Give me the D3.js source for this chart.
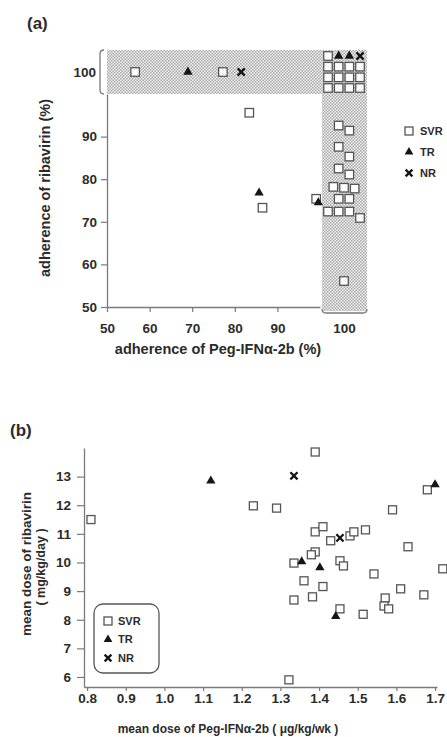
<!DOCTYPE html>
<html>
<head>
<meta charset="utf-8">
<script src="https://cdn.jsdelivr.net/npm/d3@7"></script>
<style>
  body { margin: 0; background: #fff; }
  text { font-family: "Liberation Sans", Arial, sans-serif; font-weight: bold; fill: #2b2b2b; }
</style>
</head>
<body>
<svg id="chart" width="447" height="737"></svg>
<script>
// ---------- panel (a) data : adherence (%) ----------
// both values below 100 : [Peg-IFN, ribavirin]
var aSVR = [[83.4, 95.6], [86.5, 73.3], [99.1, 75.4]];
var aTR = [[85.7, 76.8], [99.6, 74.5]];
// ribavirin = 100 %, Peg-IFN below 100
var aTopSVR = [56.6, 77.2];
var aTopTR = [69.0];
var aTopNR = [81.5];
// Peg-IFN = 100 % : [stack column, ribavirin]
var aSideSVR = [[1, 92.6], [2, 91.4], [1, 87.6], [2, 85.3], [1, 82.5], [2, 81.1],
                [0.5, 78.2], [1.5, 78.0], [2.5, 77.8], [1, 75.4], [2, 75.4],
                [0, 72.4], [1, 72.4], [2, 72.4], [3, 70.9], [1.5, 56.1]];
// both = 100 % : stacked grid, one row per line
var aCorner = [["SVR", "TR", "TR", "NR"],
               ["SVR", "SVR", "SVR", "SVR"],
               ["SVR", "SVR", "SVR", "SVR"],
               ["SVR", "SVR", "SVR", "SVR"]];
var aTicks = [50, 60, 70, 80, 90];

// ---------- panel (b) data : mean doses ----------
var bSVR = [[0.81, 11.5], [1.23, 11.98], [1.29, 11.9], [1.39, 13.86], [1.39, 11.07],
            [1.41, 11.25], [1.43, 10.76], [1.48, 10.93], [1.49, 11.07], [1.52, 11.14],
            [1.59, 11.84], [1.68, 12.54], [1.63, 10.55], [1.39, 10.37], [1.38, 10.27],
            [1.335, 9.98], [1.454, 10.06], [1.463, 9.88], [1.542, 9.6], [1.72, 9.78],
            [1.361, 9.36], [1.41, 9.16], [1.335, 8.69], [1.383, 8.8], [1.454, 8.38],
            [1.514, 8.19], [1.571, 8.76], [1.568, 8.48], [1.58, 8.38], [1.611, 9.08],
            [1.671, 8.87], [1.322, 5.9]];
var bTR = [[1.12, 12.85], [1.355, 10.03], [1.402, 9.82], [1.443, 8.12], [1.70, 12.72]];
var bNR = [[1.335, 13.03], [1.454, 10.86]];
var bXTicks = [0.8, 0.9, 1.0, 1.1, 1.2, 1.3, 1.4, 1.5, 1.6, 1.7];
var bYTicks = [6, 7, 8, 9, 10, 11, 12, 13];

var groups = ["SVR", "TR", "NR"];
var axisColor = "#7a7a7a";

var svg = d3.select("#chart");

// halftone screen used for the 100 % bands
var pattern = svg.append("defs").append("pattern")
   .attr("id", "screen")
   .attr("width", 3)
   .attr("height", 3)
   .attr("patternUnits", "userSpaceOnUse");
pattern.append("rect").attr("width", 3).attr("height", 3).attr("fill", "#f2f2f2");
pattern.append("rect").attr("width", 1.5).attr("height", 1.5).attr("fill", "#a8a8a8");
pattern.append("rect").attr("x", 1.5).attr("y", 1.5).attr("width", 1.5).attr("height", 1.5).attr("fill", "#a8a8a8");

// one marker for each response group
function addMark(g, type, px, py, s) {
    if (type === "SVR") {
        g.append("rect")
           .attr("x", px - s / 2)
           .attr("y", py - s / 2)
           .attr("width", s)
           .attr("height", s)
           .attr("fill", "#fff")
           .attr("stroke", "#555")
           .attr("stroke-width", 1.3);
    } else if (type === "TR") {
        g.append("path")
           .attr("d", d3.symbol().type(d3.symbolTriangle).size(Math.sqrt(3) / 4 * s * s * 1.2)())
           .attr("transform", `translate(${px}, ${py})`)
           .attr("fill", "#151515");
    } else {
        var h = s * 0.42;
        g.append("path")
           .attr("d", `M${-h},${-h}L${h},${h}M${-h},${h}L${h},${-h}`)
           .attr("transform", `translate(${px}, ${py})`)
           .attr("stroke", "#151515")
           .attr("stroke-width", 2.3)
           .attr("fill", "none");
    }
}

function styleAxis(g, size) {
    g.select(".domain").attr("stroke", axisColor).attr("stroke-width", 1.3);
    g.selectAll(".tick line").attr("stroke", axisColor).attr("stroke-width", 1.2);
    g.selectAll(".tick text").attr("font-size", size).attr("fill", "#2b2b2b");
    g.attr("font-family", null);
}

// =============== panel (a) ===============
var xA = d3.scaleLinear().domain([50, 100]).range([107, 320]);
var yA = d3.scaleLinear().domain([50, 100]).range([307, 94]);
var bandX = [322, 367];   // Peg-IFN = 100 %
var bandY = [50, 94];     // ribavirin = 100 %
var colA = d3.scaleLinear().domain([0, 3]).range([328, 360]);
var rowA = d3.scaleLinear().domain([0, 3]).range([56, 88]);
var midX = (bandX[0] + bandX[1]) / 2;
var midY = (bandY[0] + bandY[1]) / 2;

var gA = svg.append("g");

// shaded 100 % bands
gA.append("rect")
   .attr("x", xA(50)).attr("y", bandY[0])
   .attr("width", bandX[1] - xA(50)).attr("height", bandY[1] - bandY[0])
   .attr("fill", "url(#screen)");
gA.append("rect")
   .attr("x", bandX[0]).attr("y", bandY[0])
   .attr("width", bandX[1] - bandX[0]).attr("height", yA(50) + 4 - bandY[0])
   .attr("fill", "url(#screen)");

// brackets marking the 100 % bands
gA.append("path")
   .attr("d", `M${xA(50) - 3},${bandY[0]}Q${xA(50) - 7},${bandY[0]} ${xA(50) - 7},${bandY[0] + 4}L${xA(50) - 7},${bandY[1] - 4}Q${xA(50) - 7},${bandY[1]} ${xA(50) - 3},${bandY[1]}`)
   .attr("fill", "none").attr("stroke", axisColor).attr("stroke-width", 1.3);
gA.append("path")
   .attr("d", `M${bandX[0]},${yA(50) + 2}Q${bandX[0]},${yA(50) + 6} ${bandX[0] + 4},${yA(50) + 6}L${bandX[1] - 4},${yA(50) + 6}Q${bandX[1]},${yA(50) + 6} ${bandX[1]},${yA(50) + 2}`)
   .attr("fill", "none").attr("stroke", axisColor).attr("stroke-width", 1.3);

// axes
var xAxisA = gA.append("g")
   .attr("transform", `translate(0, ${yA(50)})`)
   .call(d3.axisBottom(xA).tickValues(aTicks).tickSize(5).tickSizeOuter(0).tickPadding(11));
styleAxis(xAxisA, 13.5);
var yAxisA = gA.append("g")
   .attr("transform", `translate(${xA(50)}, 0)`)
   .call(d3.axisLeft(yA).tickValues(aTicks).tickSize(6).tickSizeOuter(0).tickPadding(4));
styleAxis(yAxisA, 13.5);

// 100 % tick labels
gA.append("text")
   .attr("x", xA(50) - 11).attr("y", midY).attr("dy", "0.35em")
   .attr("text-anchor", "end").attr("font-size", 13.5)
   .text("100");
gA.append("text")
   .attr("x", midX).attr("y", 333)
   .attr("text-anchor", "middle").attr("font-size", 13.5)
   .text("100");

// points
aSVR.forEach(d => addMark(gA, "SVR", xA(d[0]), yA(d[1]), 8.5));
aTR.forEach(d => addMark(gA, "TR", xA(d[0]), yA(d[1]), 8.5));
aTopSVR.forEach(d => addMark(gA, "SVR", xA(d), midY, 8.5));
aTopTR.forEach(d => addMark(gA, "TR", xA(d), midY, 8.5));
aTopNR.forEach(d => addMark(gA, "NR", xA(d), midY, 8.5));
aSideSVR.forEach(d => addMark(gA, "SVR", colA(d[0]), yA(d[1]), 8.5));
aCorner.forEach((row, i) => row.forEach((type, j) => addMark(gA, type, colA(j), rowA(i), 8.5)));

// legend
groups.forEach(function(type, i) {
    addMark(gA, type, 409, 131 + i * 21, 8);
    gA.append("text")
       .attr("x", 420).attr("y", 131 + i * 21).attr("dy", "0.35em")
       .attr("font-size", 11)
       .text(type);
});

// titles
gA.append("text").attr("x", 27).attr("y", 29).attr("font-size", 17).text("(a)");
gA.append("text")
   .attr("transform", "translate(45, 188) rotate(-90)")
   .attr("text-anchor", "middle").attr("dy", "0.35em")
   .attr("font-size", 14.5)
   .text("adherence of ribavirin (%)");
gA.append("text")
   .attr("x", 218).attr("y", 354)
   .attr("text-anchor", "middle")
   .attr("font-size", 14.5)
   .text("adherence of Peg-IFNα-2b (%)");

// =============== panel (b) ===============
var xB = d3.scaleLinear().domain([0.792, 1.705]).range([84, 437]);
var yB = d3.scaleLinear().domain([5.65, 14]).range([687, 448]);

var gB = svg.append("g");

var xAxisB = gB.append("g")
   .attr("transform", `translate(0, ${yB(5.65)})`)
   .call(d3.axisBottom(xB).tickValues(bXTicks).tickFormat(d3.format(".1f")).tickSize(4).tickSizeOuter(0).tickPadding(2));
styleAxis(xAxisB, 13.5);
var yAxisB = gB.append("g")
   .attr("transform", `translate(${xB(0.792)}, 0)`)
   .call(d3.axisLeft(yB).tickValues(bYTicks).tickSize(7).tickSizeOuter(0).tickPadding(6));
styleAxis(yAxisB, 13.5);

bSVR.forEach(d => addMark(gB, "SVR", xB(d[0]), yB(d[1]), 8));
bTR.forEach(d => addMark(gB, "TR", xB(d[0]), yB(d[1]), 8.5));
bNR.forEach(d => addMark(gB, "NR", xB(d[0]), yB(d[1]), 8.5));

// legend box
gB.append("rect")
   .attr("x", 94).attr("y", 604).attr("width", 65).attr("height", 69)
   .attr("rx", 9)
   .attr("fill", "#fff").attr("stroke", "#555").attr("stroke-width", 1.3);
groups.forEach(function(type, i) {
    addMark(gB, type, 108, 621 + i * 18.5, 8);
    gB.append("text")
       .attr("x", 118).attr("y", 621 + i * 18.5).attr("dy", "0.35em")
       .attr("font-size", 11)
       .text(type);
});

// titles
gB.append("text").attr("x", 10).attr("y", 436).attr("font-size", 17).text("(b)");
gB.append("text")
   .attr("transform", "translate(26, 564) rotate(-90)")
   .attr("text-anchor", "middle").attr("dy", "0.35em")
   .attr("font-size", 13.5)
   .text("mean dose of ribavirin");
gB.append("text")
   .attr("transform", "translate(41, 567) rotate(-90)")
   .attr("text-anchor", "middle").attr("dy", "0.35em")
   .attr("font-size", 12.5)
   .text("( mg/kg/day )");
gB.append("text")
   .attr("x", 228).attr("y", 733)
   .attr("text-anchor", "middle")
   .attr("font-size", 12)
   .text("mean dose of Peg-IFNα-2b ( μg/kg/wk )");
</script>
</body>
</html>
